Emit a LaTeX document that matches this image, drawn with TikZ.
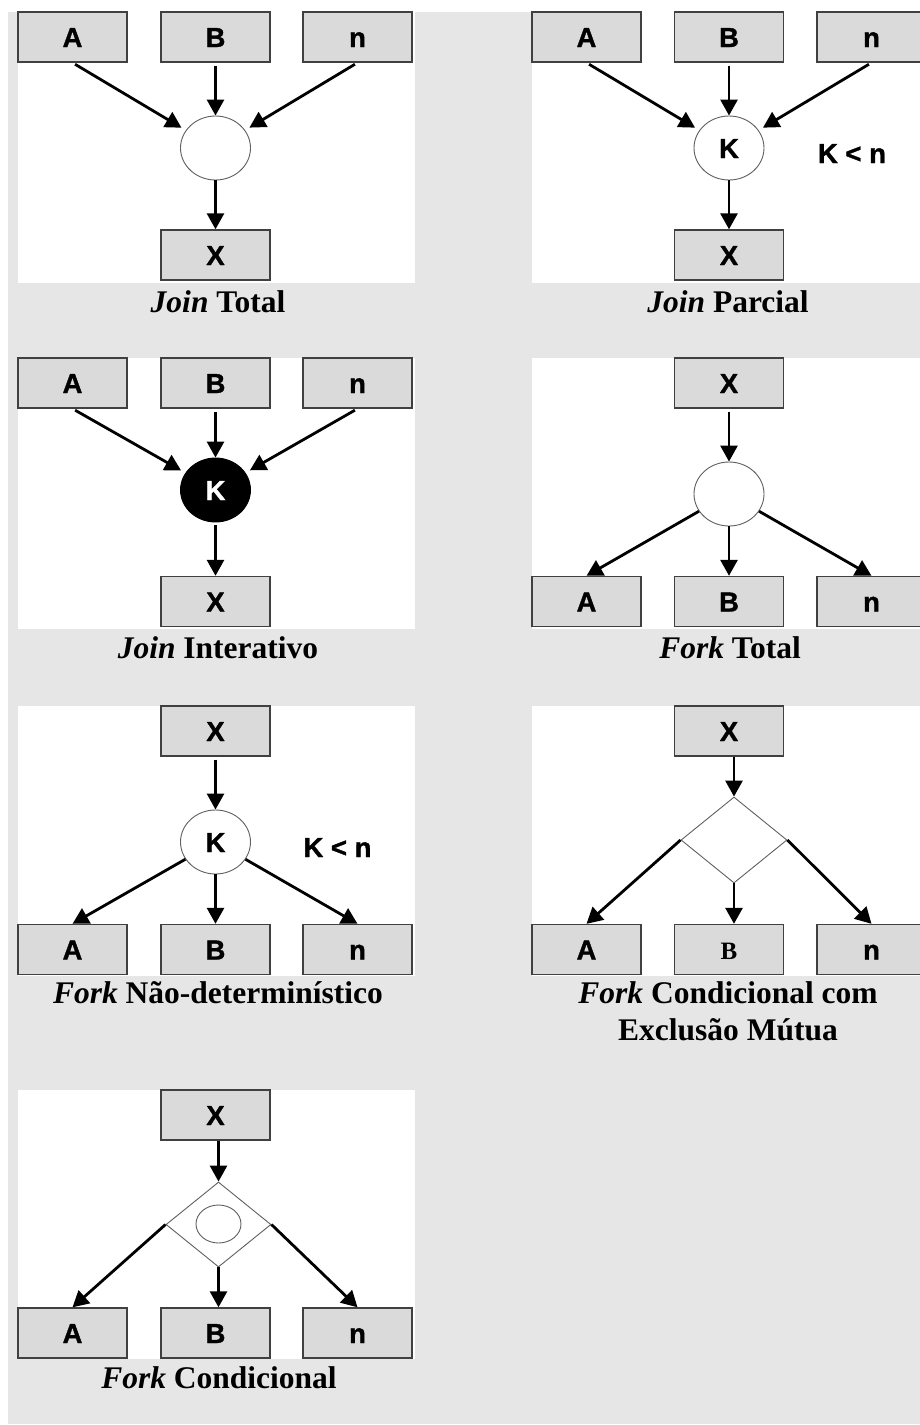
\documentclass[tikz,border=0pt]{standalone}
\usepackage{fontspec}
\setmainfont{Liberation Serif}
\newfontfamily\boxfont[BoldFeatures={FakeBold=1.2}]{Liberation Sans}
\usetikzlibrary{shapes.geometric,arrows.meta}

\definecolor{pagegray}{RGB}{230,230,230}
\definecolor{boxgray}{RGB}{218,218,218}
\definecolor{edgegray}{RGB}{64,64,64}
\definecolor{ringgray}{RGB}{96,96,96}

\tikzset{
  panel/.style={fill=white},
  blk/.style={draw=edgegray, line width=1.4pt, fill=boxgray,
    minimum width=109pt, minimum height=50pt, inner sep=0pt,
    text height=20pt, text depth=0pt,
    font=\boxfont\fontsize{27.5}{27.5}\selectfont\bfseries},
  serifblk/.style={blk, font=\fontsize{25}{25}\selectfont\bfseries},
  ring/.style={ellipse, draw=ringgray, line width=0.9pt, fill=white,
    minimum width=70pt, minimum height=64pt, inner sep=0pt,
    text height=20pt, text depth=0pt,
    font=\boxfont\fontsize{27.5}{27.5}\selectfont\bfseries},
  blackring/.style={ring, draw=black, fill=black, text=white},
  gate/.style={diamond, draw=ringgray, line width=0.9pt, fill=white, inner sep=0pt},
  oval/.style={ellipse, draw=ringgray, line width=0.9pt, inner sep=0pt,
    minimum width=45pt, minimum height=38pt},
  rule/.style={anchor=base, font=\boxfont\fontsize{27.5}{27.5}\selectfont\bfseries},
  flow/.style={-{Triangle[length=16pt,width=17pt]}, line width=2.8pt},
  caption/.style={anchor=base, font=\fontsize{31.5}{36}\selectfont\bfseries},
}

\begin{document}
\begin{tikzpicture}[x=1pt, y=-1pt]
  \useasboundingbox (0,0) rectangle (920,1425);
  \fill[white] (0,0) rectangle (920,1425);
  \fill[pagegray] (8,12) rectangle (920,1424);

  % white panels
  \fill[panel] (18,12) rectangle (415,283);
  \fill[panel] (532,12) rectangle (920,283);
  \fill[panel] (18,358) rectangle (415,629);
  \fill[panel] (532,358) rectangle (920,629);
  \fill[panel] (18,706) rectangle (415,976);
  \fill[panel] (532,706) rectangle (920,976);
  \fill[panel] (18,1090) rectangle (415,1359);

  % ---- Join Total
  \node[blk] (p1A) at (72.5,37) {A};
  \node[blk] (p1B) at (215.5,37) {B};
  \node[blk] (p1n) at (357.5,37) {n};
  \node[ring] (p1c) at (215.5,148) {};
  \node[blk] (p1X) at (215.5,255) {X};
  \draw[flow, shorten <=3pt, shorten >=5pt] (p1A.south) -- (p1c);
  \draw[flow, shorten <=3pt] (p1B) -- (p1c);
  \draw[flow, shorten <=3pt, shorten >=5pt] (p1n.south) -- (p1c);
  \draw[flow] (p1c) -- (p1X);
  \node[caption] (p1cap) at (218,312) {\textit{Join} Total};

  % ---- Join Parcial
  \node[blk] (p2A) at (586.5,37) {A};
  \node[blk] (p2B) at (729,37) {B};
  \node[blk] (p2n) at (871.5,37) {n};
  \node[ring] (p2c) at (729,148) {K};
  \node[blk] (p2X) at (729,255) {X};
  \node[rule] (p2k) at (852,163) {K < n};
  \draw[flow, shorten <=3pt, shorten >=5pt] (p2A.south) -- (p2c);
  \draw[flow, shorten <=3pt] (p2B) -- (p2c);
  \draw[flow, shorten <=3pt, shorten >=5pt] (p2n.south) -- (p2c);
  \draw[flow] (p2c) -- (p2X);
  \node[caption] (p2cap) at (728,312) {\textit{Join} Parcial};

  % ---- Join Interativo
  \node[blk] (p3A) at (72.5,383) {A};
  \node[blk] (p3B) at (215.5,383) {B};
  \node[blk] (p3n) at (357.5,383) {n};
  \node[blackring] (p3c) at (215.5,490) {K};
  \node[blk] (p3X) at (215.5,601.5) {X};
  \draw[flow, shorten <=3pt, shorten >=5pt] (p3A.south) -- (p3c);
  \draw[flow, shorten <=3pt] (p3B) -- (p3c);
  \draw[flow, shorten <=3pt, shorten >=5pt] (p3n.south) -- (p3c);
  \draw[flow, shorten <=3pt] (p3c) -- (p3X);
  \node[caption] (p3cap) at (218,658) {\textit{Join} Interativo};

  % ---- Fork Total
  \node[blk] (p4X) at (729,383) {X};
  \node[ring] (p4c) at (729,494) {};
  \node[blk] (p4A) at (586.5,601.5) {A};
  \node[blk] (p4B) at (729,601.5) {B};
  \node[blk] (p4n) at (871.5,601.5) {n};
  \draw[flow, shorten <=3pt] (p4X) -- (p4c);
  \draw[flow] (p4c) -- (p4A.north);
  \draw[flow] (p4c) -- (p4B);
  \draw[flow] (p4c) -- (p4n.north);
  \node[caption] (p4cap) at (730,658) {\textit{Fork} Total};

  % ---- Fork Não-determinístico
  \node[blk] (p5X) at (215.5,731) {X};
  \node[ring] (p5c) at (215.5,842) {K};
  \node[blk] (p5A) at (72.5,949.5) {A};
  \node[blk] (p5B) at (215.5,949.5) {B};
  \node[blk] (p5n) at (357.5,949.5) {n};
  \node[rule] (p5k) at (337.5,857) {K < n};
  \draw[flow, shorten <=3pt] (p5X) -- (p5c);
  \draw[flow] (p5c) -- (p5A.north);
  \draw[flow] (p5c) -- (p5B);
  \draw[flow] (p5c) -- (p5n.north);
  \node[caption] (p5cap) at (218,1003) {\textit{Fork} Não-determinístico};

  % ---- Fork Condicional com Exclusão Mútua
  \node[blk] (p6X) at (729,731) {X};
  \node[gate, minimum width=106pt, minimum height=86pt] (p6d) at (734,840) {};
  \node[blk] (p6A) at (586.5,949.5) {A};
  \node[serifblk] (p6B) at (729,949.5) {B};
  \node[blk] (p6n) at (871.5,949.5) {n};
  \draw[flow] (p6X.south -| p6d.north) -- (p6d.north);
  \draw[flow] (p6d.west) -- (p6A.north);
  \draw[flow] (p6d.south) -- (p6d.south |- p6B.north);
  \draw[flow] (p6d.east) -- (p6n.north);
  \node[caption] (p6cap) at (728,1003) {\textit{Fork} Condicional com};
  \node[caption] (p6cap2) at (728,1040) {Exclusão Mútua};

  % ---- Fork Condicional
  \node[blk] (p7X) at (215.5,1115) {X};
  \node[gate, minimum width=105pt, minimum height=85pt] (p7d) at (218.5,1224.5) {};
  \node[oval] (p7o) at (218.5,1224) {};
  \node[blk] (p7A) at (72.5,1333) {A};
  \node[blk] (p7B) at (215.5,1333) {B};
  \node[blk] (p7n) at (357.5,1333) {n};
  \draw[flow] (p7X.south -| p7d.north) -- (p7d.north);
  \draw[flow] (p7d.west) -- (p7A.north);
  \draw[flow] (p7d.south) -- (p7d.south |- p7B.north);
  \draw[flow] (p7d.east) -- (p7n.north);
  \node[caption] (p7cap) at (219,1388) {\textit{Fork} Condicional};
\end{tikzpicture}
\end{document}
